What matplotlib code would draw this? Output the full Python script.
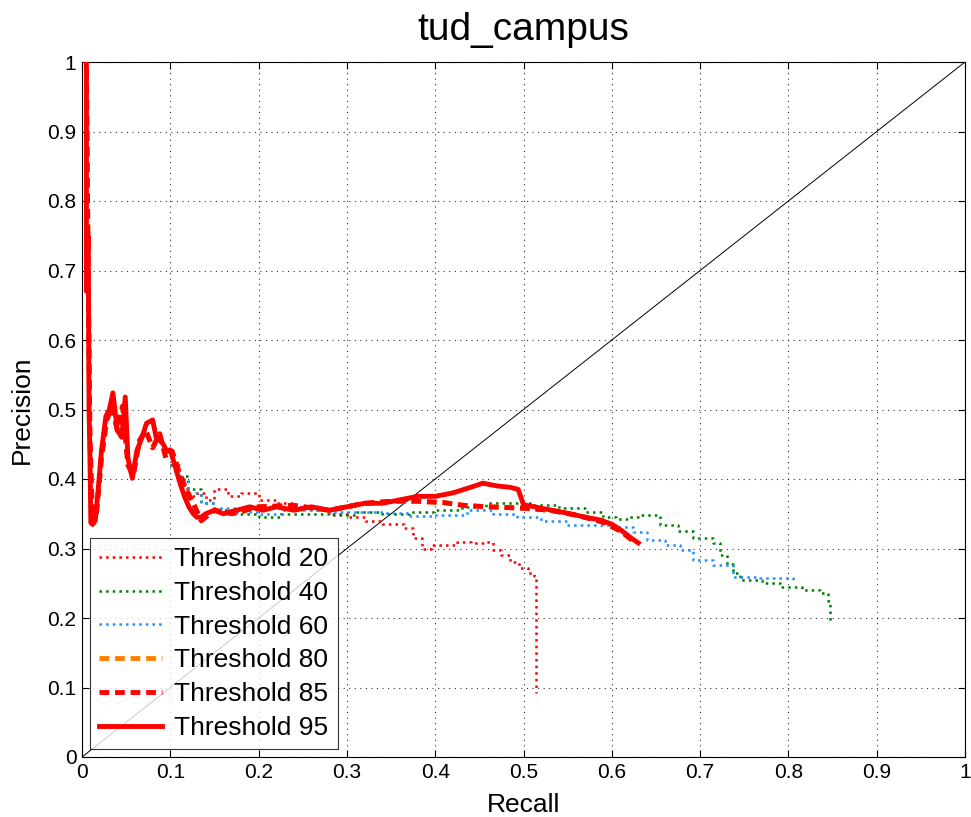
import matplotlib
matplotlib.use("Agg")
import matplotlib.pyplot as plt
import numpy as np

plt.rcParams['font.family'] = ['Liberation Sans', 'DejaVu Sans']

title = "tud_campus"
labels = ["Threshold 20", "Threshold 40", "Threshold 60", "Threshold 80", "Threshold 85", "Threshold 95"]
tick_vals = [0, 0.1, 0.2, 0.3, 0.4, 0.5, 0.6, 0.7, 0.8, 0.9, 1]
tick_labels = ["0", "0.1", "0.2", "0.3", "0.4", "0.5", "0.6", "0.7", "0.8", "0.9", "1"]

# Threshold 20
r20 = [0.100, 0.105, 0.110, 0.115, 0.120, 0.130, 0.140, 0.150, 0.165, 0.180, 0.200, 0.220, 0.240, 0.260, 0.280, 0.300, 0.320, 0.340, 0.355, 0.365, 0.375, 0.385, 0.395, 0.410, 0.425, 0.440, 0.455, 0.465, 0.475, 0.485, 0.495, 0.505, 0.512, 0.514, 0.514]
p20 = [0.420, 0.410, 0.400, 0.385, 0.375, 0.380, 0.370, 0.385, 0.375, 0.380, 0.370, 0.365, 0.360, 0.355, 0.350, 0.345, 0.340, 0.335, 0.335, 0.330, 0.315, 0.300, 0.305, 0.305, 0.310, 0.308, 0.310, 0.298, 0.290, 0.280, 0.272, 0.265, 0.260, 0.250, 0.092]
# Threshold 40
r40 = [0.100, 0.110, 0.120, 0.135, 0.150, 0.175, 0.200, 0.225, 0.250, 0.280, 0.310, 0.340, 0.370, 0.400, 0.430, 0.458, 0.490, 0.511, 0.540, 0.570, 0.590, 0.605, 0.620, 0.630, 0.655, 0.675, 0.692, 0.715, 0.722, 0.730, 0.737, 0.745, 0.770, 0.790, 0.815, 0.836, 0.845, 0.847]
p40 = [0.420, 0.405, 0.385, 0.365, 0.355, 0.350, 0.345, 0.350, 0.350, 0.348, 0.352, 0.350, 0.352, 0.355, 0.360, 0.365, 0.365, 0.363, 0.358, 0.352, 0.345, 0.342, 0.345, 0.348, 0.334, 0.325, 0.315, 0.308, 0.290, 0.278, 0.265, 0.255, 0.250, 0.245, 0.240, 0.236, 0.225, 0.195]
# Threshold 60
r60 = [0.100, 0.110, 0.120, 0.135, 0.150, 0.175, 0.200, 0.225, 0.250, 0.280, 0.310, 0.341, 0.370, 0.398, 0.436, 0.465, 0.493, 0.520, 0.549, 0.570, 0.601, 0.624, 0.640, 0.660, 0.677, 0.692, 0.715, 0.737, 0.768, 0.805]
p60 = [0.420, 0.400, 0.380, 0.365, 0.358, 0.352, 0.350, 0.355, 0.355, 0.352, 0.352, 0.351, 0.347, 0.348, 0.355, 0.350, 0.345, 0.340, 0.334, 0.334, 0.331, 0.324, 0.312, 0.305, 0.298, 0.283, 0.276, 0.259, 0.257, 0.252]
# Threshold 80
r80 = [0.005, 0.007, 0.009, 0.012, 0.016, 0.022, 0.028, 0.034, 0.040, 0.046, 0.052, 0.058, 0.065, 0.072, 0.080, 0.088, 0.095, 0.102, 0.110, 0.118, 0.126, 0.135, 0.150, 0.170, 0.200, 0.240, 0.280, 0.320, 0.350, 0.380, 0.410, 0.432, 0.460, 0.500, 0.530, 0.560, 0.590, 0.610, 0.625]
p80 = [0.990, 0.700, 0.460, 0.335, 0.345, 0.430, 0.485, 0.505, 0.470, 0.505, 0.420, 0.405, 0.455, 0.470, 0.445, 0.465, 0.430, 0.440, 0.410, 0.385, 0.365, 0.340, 0.355, 0.350, 0.360, 0.362, 0.355, 0.365, 0.368, 0.368, 0.366, 0.362, 0.360, 0.358, 0.355, 0.348, 0.338, 0.325, 0.310]
# Threshold 85
r85 = [0.005, 0.007, 0.009, 0.012, 0.016, 0.022, 0.028, 0.034, 0.040, 0.046, 0.052, 0.058, 0.065, 0.072, 0.080, 0.088, 0.095, 0.102, 0.110, 0.118, 0.126, 0.135, 0.150, 0.170, 0.200, 0.240, 0.280, 0.320, 0.350, 0.380, 0.410, 0.432, 0.460, 0.500, 0.530, 0.560, 0.590, 0.610, 0.625]
p85 = [0.990, 0.700, 0.460, 0.335, 0.345, 0.430, 0.485, 0.505, 0.470, 0.505, 0.420, 0.405, 0.455, 0.470, 0.445, 0.465, 0.430, 0.440, 0.410, 0.385, 0.365, 0.340, 0.355, 0.350, 0.360, 0.362, 0.355, 0.365, 0.368, 0.368, 0.366, 0.362, 0.360, 0.358, 0.355, 0.348, 0.338, 0.325, 0.310]
# Threshold 95
r95 = [0.005, 0.005, 0.007, 0.008, 0.009, 0.010, 0.012, 0.015, 0.018, 0.022, 0.027, 0.031, 0.035, 0.040, 0.045, 0.049, 0.052, 0.057, 0.062, 0.068, 0.073, 0.080, 0.084, 0.088, 0.092, 0.096, 0.100, 0.105, 0.111, 0.116, 0.121, 0.126, 0.130, 0.135, 0.140, 0.150, 0.160, 0.175, 0.190, 0.205, 0.220, 0.240, 0.260, 0.280, 0.300, 0.320, 0.340, 0.360, 0.380, 0.400, 0.420, 0.440, 0.454, 0.470, 0.485, 0.494, 0.500, 0.520, 0.549, 0.570, 0.587, 0.600, 0.612, 0.622, 0.630]
p95 = [1.000, 0.670, 0.750, 0.500, 0.430, 0.337, 0.335, 0.340, 0.380, 0.440, 0.490, 0.500, 0.524, 0.470, 0.460, 0.518, 0.430, 0.401, 0.440, 0.460, 0.480, 0.485, 0.460, 0.456, 0.450, 0.440, 0.442, 0.420, 0.394, 0.375, 0.360, 0.350, 0.345, 0.345, 0.350, 0.355, 0.350, 0.355, 0.360, 0.355, 0.360, 0.355, 0.360, 0.355, 0.360, 0.365, 0.365, 0.370, 0.375, 0.375, 0.380, 0.388, 0.394, 0.390, 0.388, 0.385, 0.363, 0.358, 0.351, 0.345, 0.341, 0.335, 0.325, 0.315, 0.308]

fig = plt.figure(figsize=(9.71, 8.17), dpi=100)
ax = fig.add_axes([82/971, 60/817, 883/971, 695/817])

ax.plot([0, 1], [0, 1], color='black', lw=0.7, zorder=1)
ax.plot(r20, p20, color='#FF0000', ls=':', lw=1.8, label=labels[0], zorder=3, drawstyle='steps-post')
ax.plot(r40, p40, color='#008000', ls=':', lw=1.8, label=labels[1], zorder=3, drawstyle='steps-post')
ax.plot(r60, p60, color='#1E90FF', ls=':', lw=1.8, label=labels[2], zorder=3, drawstyle='steps-post')
ax.plot(r80, p80, color='#FF8000', ls=(0, (2, 1.2)), lw=3.5, label=labels[3], zorder=4)
ax.plot(r85, p85, color='#FF0000', ls=(0, (2, 1.2)), lw=3.5, label=labels[4], zorder=5)
ax.plot(r95, p95, color='#FF0000', ls='-', lw=3.5, label=labels[5], zorder=6)

ax.set_xlim(0, 1)
ax.set_ylim(0, 1)
ax.set_xticks(tick_vals)
ax.set_xticklabels(tick_labels)
ax.set_yticks(tick_vals)
ax.set_yticklabels(tick_labels)
ax.tick_params(direction='in', length=5, labelsize=15, top=True, right=True, pad=4)
ax.grid(True, ls=(0, (1, 4)), color='black', lw=0.8, alpha=0.8)
for s in ax.spines.values():
    s.set_linewidth(0.8)

ax.set_title(title, fontsize=28, pad=16)
ax.set_xlabel("Recall", fontsize=19, labelpad=8)
ax.set_ylabel("Precision", fontsize=19, labelpad=10)

leg = ax.legend(loc='lower left', fontsize=19, frameon=True, fancybox=False,
                edgecolor='black', handlelength=2.4, handletextpad=0.45,
                borderpad=0.35, labelspacing=0.37, borderaxespad=0.3)
leg.get_frame().set_linewidth(0.8)
leg.set_zorder(10)

fig.savefig("out.png", dpi=100)
